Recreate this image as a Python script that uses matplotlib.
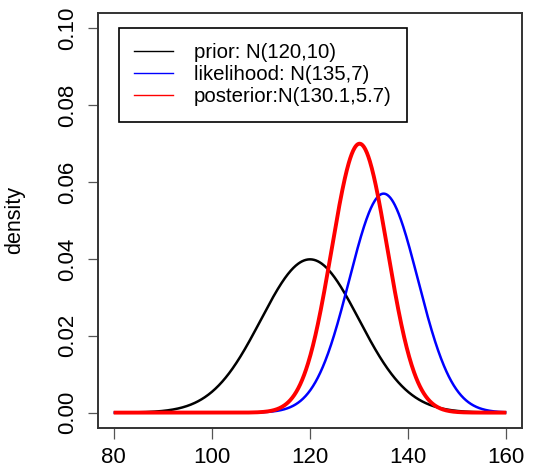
import numpy as np
import matplotlib
matplotlib.use("Agg")
import matplotlib.pyplot as plt
from matplotlib.lines import Line2D

plt.rcParams['font.family'] = ['Liberation Sans', 'DejaVu Sans']

# Data: distribution parameters as labelled on the chart
labels = ["prior: N(120,10)", "likelihood: N(135,7)", "posterior:N(130.1,5.7)"]
means = [120, 135, 130.1]
sds = [10, 7, 5.7]
colors = ["black", "blue", "red"]
linewidths = [1.8, 1.8, 2.8]
x_ticks = [80, 100, 120, 140, 160]
y_ticks = [0.00, 0.02, 0.04, 0.06, 0.08, 0.10]
y_tick_labels = ["0.00", "0.02", "0.04", "0.06", "0.08", "0.10"]

x = np.linspace(80, 160, 801)

fig = plt.figure(figsize=(5.47, 4.72), dpi=100)
ax = fig.add_axes([98/547, 1-428/472, (522-98)/547, (428-13)/472])

for m, s, c, lw in zip(means, sds, colors, linewidths):
    y = np.exp(-0.5*((x-m)/s)**2)/(s*np.sqrt(2*np.pi))
    ax.plot(x, y, color=c, lw=lw, solid_capstyle='butt')

handles = [Line2D([0], [0], color=c, lw=1.0) for c in colors]

ax.set_xlim(76.8, 163.2)
ax.set_ylim(-0.004, 0.104)
ax.set_xticks(x_ticks)
ax.set_xticklabels([str(t) for t in x_ticks])
ax.set_yticks(y_ticks)
ax.set_yticklabels(y_tick_labels, rotation=90, va='center')
ax.tick_params(direction='out', length=7, width=0.9, color='#555555', labelsize=16, pad=7)
ax.tick_params(axis='x', length=8, pad=6)
for sp in ax.spines.values():
    sp.set_linewidth(1.4)
    sp.set_color('#333333')
ax.set_ylabel("density", fontsize=15.5)
ax.yaxis.set_label_coords(-0.172, 0.5)

leg = ax.legend(handles, labels, loc='upper left', bbox_to_anchor=(0.0495, 0.964),
                borderaxespad=0, fancybox=False, edgecolor='black', framealpha=1,
                fontsize=14.7, handlelength=1.9, handletextpad=1.0,
                labelspacing=0.15, borderpad=0.75)
leg.get_frame().set_linewidth(1.2)

fig.savefig("out.png", dpi=100)
